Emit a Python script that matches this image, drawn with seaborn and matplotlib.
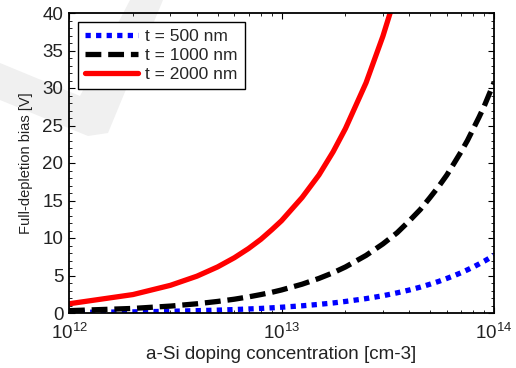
import matplotlib
matplotlib.use("Agg")
import matplotlib.pyplot as plt
import matplotlib.ticker as mticker
from matplotlib.patches import Polygon
import seaborn as sns
import numpy as np

# Data
doping = [1e12, 2e12, 3e12, 4e12, 5e12, 6e12, 7e12, 8e12, 9e12,
          1e13, 1.25e13, 1.5e13, 1.75e13, 2e13, 2.5e13, 3e13, 3.5e13,
          4e13, 4.5e13, 5e13, 5.5e13, 6e13, 6.5e13, 7e13, 7.5e13,
          8e13, 8.5e13, 9e13, 9.5e13, 1e14]
v_500 = [0.08, 0.15, 0.23, 0.31, 0.38, 0.46, 0.54, 0.61, 0.69,
         0.77, 0.96, 1.15, 1.34, 1.54, 1.92, 2.30, 2.69,
         3.07, 3.45, 3.84, 4.22, 4.61, 4.99, 5.37, 5.76,
         6.14, 6.53, 6.91, 7.30, 7.68]
v_1000 = [0.31, 0.61, 0.92, 1.23, 1.54, 1.84, 2.15, 2.46, 2.76,
          3.07, 3.84, 4.61, 5.37, 6.14, 7.68, 9.21, 10.7,
          12.3, 13.8, 15.4, 16.9, 18.4, 20.0, 21.5, 23.0,
          24.6, 26.1, 27.6, 29.2, 30.7]
v_2000 = [1.23, 2.46, 3.69, 4.91, 6.14, 7.37, 8.60, 9.83, 11.1,
          12.3, 15.4, 18.4, 21.5, 24.6, 30.7, 36.9, 43.0]
labels = ["t = 500 nm", "t = 1000 nm", "t = 2000 nm"]
x_label = "a-Si doping concentration [cm-3]"
y_label = "Full-depletion bias [V]"

sns.set_theme(style="white")
plt.rcParams['font.family'] = ['Liberation Sans', 'DejaVu Sans']
plt.rcParams['mathtext.fontset'] = 'custom'
plt.rcParams['mathtext.rm'] = 'Liberation Sans'
plt.rcParams['mathtext.it'] = 'Liberation Sans'

W, H = 516, 368
fig = plt.figure(figsize=(W / 100, H / 100), dpi=100)
fig.patch.set_facecolor('white')

# faint watermark check mark in the background
wm_px = [(0, 63), (80, 96), (130, 0), (163, 0), (108, 133), (88, 136), (0, 100)]
wm = Polygon([(px / W, 1 - py / H) for px, py in wm_px], closed=True,
             transform=fig.transFigure, facecolor='#f0f0f0',
             edgecolor='none', zorder=0)
fig.add_artist(wm)

ax = fig.add_axes([69 / W, 1 - 313 / H, (494 - 69) / W, (313 - 13) / H])
ax.set_facecolor('none')
ax.set_zorder(1)

series = [
    (doping, v_500, labels[0], '#0000ff', (1, 1)),
    (doping, v_1000, labels[1], 'black', (3, 1.3)),
    (doping[:len(v_2000)], v_2000, labels[2], '#ff0000', None),
]
for xs, ys, lab, col, dash in series:
    sns.lineplot(x=xs, y=ys, ax=ax, color=col, linewidth=3.8, label=lab,
                 legend=False)
    line = ax.lines[-1]
    if dash is not None:
        line.set_dashes(dash)
        line.set_dash_capstyle('butt')

ax.set_xscale('log')
ax.set_xlim(1e12, 1e14)
ax.set_ylim(0, 40)
ax.yaxis.set_major_locator(mticker.MultipleLocator(5))
ax.yaxis.set_minor_locator(mticker.MultipleLocator(1))
ax.xaxis.set_major_locator(mticker.LogLocator(base=10))
ax.xaxis.set_minor_locator(mticker.LogLocator(base=10, subs=np.arange(2, 10)))
ax.xaxis.set_minor_formatter(mticker.NullFormatter())
ax.xaxis.set_major_formatter(mticker.FuncFormatter(
    lambda v, p: r"$\mathregular{10^{%d}}$" % int(round(np.log10(v)))))

ax.tick_params(which='both', direction='in', top=True, right=True,
               bottom=True, left=True, colors='black', labelsize=13.5,
               labelcolor='#222222')
ax.tick_params(which='major', length=4, width=0.8)
ax.tick_params(which='minor', length=2, width=0.6)
ax.tick_params(axis='y', which='major', pad=4)
ax.tick_params(axis='x', which='major', pad=7)
for s in ax.spines.values():
    s.set_visible(True)
    s.set_color('black')
    s.set_linewidth(1.3)

ax.set_xlabel(x_label, fontsize=13.5, color='#222222', labelpad=2)
ax.set_ylabel(y_label, fontsize=10.5, color='#222222', labelpad=7)

handles = ax.lines[:3]
leg = ax.legend(handles, labels, loc='upper left', fontsize=12.5,
                frameon=True, fancybox=False, edgecolor='black',
                framealpha=1, handlelength=3.1, handletextpad=0.4,
                borderaxespad=0.5, labelspacing=0.22, borderpad=0.4)
leg.get_frame().set_linewidth(1.0)

fig.savefig("out.png", dpi=100, facecolor='white')
